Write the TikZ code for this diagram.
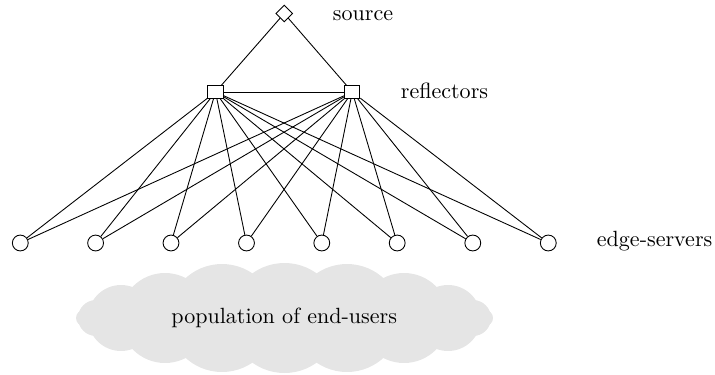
\documentclass[tikz,border=0pt]{standalone}
\usetikzlibrary{shapes.geometric}
\begin{document}
\begin{tikzpicture}[x=0.454pt,y=-0.454pt,
  server/.style={circle,draw,inner sep=0pt,minimum size=7.2pt},
  reflector/.style={rectangle,draw,inner sep=0pt,minimum width=6.9pt,minimum height=5.7pt},
  origin/.style={diamond,draw,inner sep=0pt,minimum size=7.6pt},
  textlabel/.style={inner sep=0pt,anchor=base west},
  link/.style={line width=0.4pt}]
\useasboundingbox (0,0) rectangle (715,374);

% cloud of end-users built from overlapping discs
\foreach \cx/\r in {84/8,96/18,121/33,165/45,222/54,284.5/55,347/54,404/45,448/33,473/18,485/8}
  \fill[gray!20] (\cx,318) circle[radius=\r];
\node[inner sep=0pt,anchor=base] (pop) at (284.2,323.3) {population of end-users};

% source and reflectors
\node[origin] (src) at (284.2,13.5) {};
\node[reflector] (r1) at (215.5,92) {};
\node[reflector] (r2) at (352.3,92) {};

% edge servers
\foreach \i/\x in {1/20.3,2/95.6,3/171,4/246.5,5/321.8,6/397.2,7/472.8,8/548.3}
  \node[server] (e\i) at (\x,243) {};

% connections
\draw[link] (src) -- (r1);
\draw[link] (src) -- (r2);
\draw[link] (r1) -- (r2);
\foreach \i in {1,...,8} {
  \draw[link] (r1) -- (e\i);
  \draw[link] (r2) -- (e\i);
}

% tier captions
\node[textlabel] (lsrc) at (332.5,20.7) {source};
\node[textlabel] (lref) at (400.5,98.5) {reflectors};
\node[textlabel] (ledge) at (596.5,246.7) {edge-servers};
\end{tikzpicture}
\end{document}
